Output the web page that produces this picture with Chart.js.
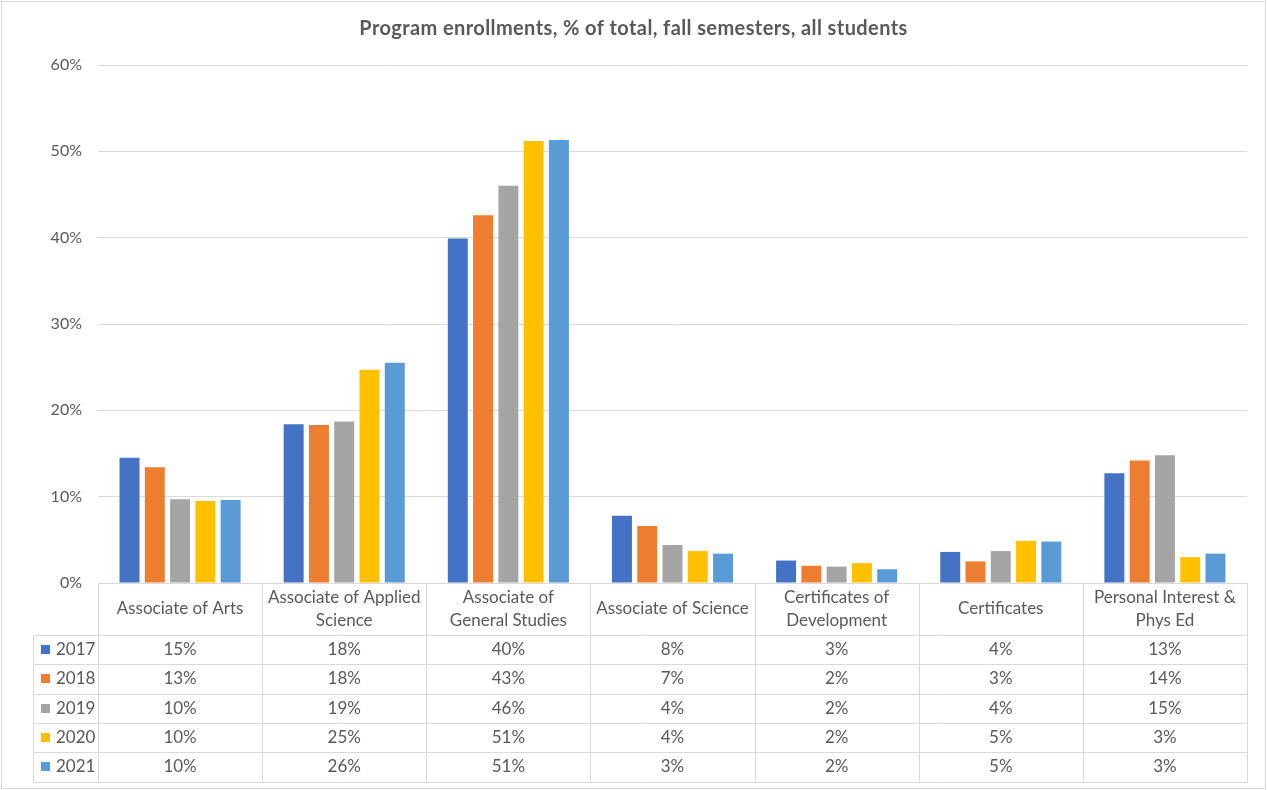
<!DOCTYPE html>
<html>
<head>
<meta charset="utf-8">
<title>Program enrollments</title>
<script src="https://cdn.jsdelivr.net/npm/chart.js@4"></script>
<style>
  html, body { margin: 0; padding: 0; background: #fff; }
  canvas { display: block; }
</style>
</head>
<body>
<canvas id="enrollChart" width="1267" height="790"></canvas>
<script>
const categories = [
  ['Associate of Arts'],
  ['Associate of Applied', 'Science'],
  ['Associate of', 'General Studies'],
  ['Associate of Science'],
  ['Certificates of', 'Development'],
  ['Certificates'],
  ['Personal Interest &', 'Phys Ed']
];
const years = ['2017', '2018', '2019', '2020', '2021'];
const colors = ['#4472C4', '#ED7D31', '#A5A5A5', '#FFC000', '#5B9BD5'];

// percent of total
const y2017 = [14.5, 18.4, 39.9, 7.8, 2.6, 3.6, 12.7];
const y2018 = [13.4, 18.3, 42.6, 6.6, 2.0, 2.5, 14.2];
const y2019 = [9.7, 18.7, 46.0, 4.4, 1.9, 3.7, 14.8];
const y2020 = [9.5, 24.7, 51.2, 3.7, 2.3, 4.9, 3.0];
const y2021 = [9.6, 25.5, 51.3, 3.4, 1.6, 4.8, 3.4];
const series = [y2017, y2018, y2019, y2020, y2021];

const yTicks = [0, 10, 20, 30, 40, 50, 60];

const FONT = 'Lato, "Liberation Sans", sans-serif';
const TEXT = '#595959';
const LINE = '#d9d9d9';

// title + data table under the plot, drawn from the same scales
const tablePlugin = {
  id: 'dataTable',
  afterDraw(chart) {
    const { ctx, chartArea: a, scales: { x } } = chart;
    const colW = a.width / categories.length;
    const headTop = a.bottom, headBot = a.bottom + 52;
    const rowH = 29.3;
    const tableBot = headBot + rowH * years.length;
    const legLeft = 33.5;

    ctx.save();
    // outer frame
    ctx.strokeStyle = LINE;
    ctx.lineWidth = 1;
    ctx.strokeRect(1.5, 1.5, chart.width - 3, chart.height - 3);

    // title
    ctx.fillStyle = TEXT;
    ctx.font = 'bold 20px ' + FONT;
    ctx.letterSpacing = '0.4px';
    ctx.textAlign = 'center';
    ctx.textBaseline = 'middle';
    ctx.fillText('Program enrollments, % of total, fall semesters, all students', chart.width / 2, 29);
    ctx.letterSpacing = '0px';

    // grid lines of the table
    ctx.beginPath();
    ctx.moveTo(a.left, headTop + 0.5); ctx.lineTo(a.right, headTop + 0.5);
    for (let r = 0; r <= years.length; r++) {
      const yy = Math.round(headBot + r * rowH) + 0.5;
      ctx.moveTo(legLeft, yy); ctx.lineTo(a.right, yy);
    }
    for (let c = 0; c <= categories.length; c++) {
      const xx = Math.round(x.getPixelForValue(c) - colW / 2) + 0.5;
      ctx.moveTo(xx, headTop); ctx.lineTo(xx, Math.round(tableBot) + 0.5);
    }
    ctx.moveTo(legLeft, Math.round(headBot) + 0.5); ctx.lineTo(legLeft, Math.round(tableBot) + 0.5);
    ctx.stroke();

    ctx.font = '17px ' + FONT;
    ctx.fillStyle = TEXT;
    // header cells
    categories.forEach((lines, i) => {
      const cx = x.getPixelForValue(i);
      const mid = (headTop + headBot) / 2;
      lines.forEach((t, k) => {
        const yy = mid + (k - (lines.length - 1) / 2) * 23;
        ctx.fillText(t, cx, yy);
      });
    });
    // value rows + legend keys
    series.forEach((vals, r) => {
      const cy = headBot + rowH * (r + 0.5);
      ctx.fillStyle = colors[r];
      ctx.fillRect(41, Math.round(cy - 4.5), 9, 9);
      ctx.fillStyle = TEXT;
      ctx.textAlign = 'left';
      ctx.fillText(years[r], 56, cy);
      ctx.textAlign = 'center';
      vals.forEach((v, i) => {
        ctx.fillText(Math.round(v) + '%', x.getPixelForValue(i), cy);
      });
    });
    ctx.restore();
  }
};

new Chart(document.getElementById('enrollChart'), {
  type: 'bar',
  data: {
    labels: categories,
    datasets: series.map((vals, i) => ({
      label: years[i],
      data: vals,
      backgroundColor: colors[i],
      borderWidth: 0,
      categoryPercentage: 0.77,
      barPercentage: 0.79
    }))
  },
  options: {
    responsive: false,
    devicePixelRatio: 1,
    animation: false,
    layout: { padding: { left: 0, right: 20, top: 65, bottom: 207 } },
    plugins: {
      legend: { display: false },
      title: { display: false },
      tooltip: { enabled: false }
    },
    scales: {
      x: {
        grid: { display: false },
        border: { display: false },
        ticks: { display: false },
        afterFit(scale) { scale.height = 0; }
      },
      y: {
        min: 0,
        max: 60,
        afterBuildTicks(scale) { scale.ticks = yTicks.map(v => ({ value: v })); },
        afterFit(scale) { scale.width = 98; },
        grid: { color: LINE, drawTicks: false },
        border: { display: false },
        ticks: {
          padding: 16,
          color: TEXT,
          font: { family: FONT, size: 16 },
          callback: v => v + '%'
        }
      }
    }
  },
  plugins: [tablePlugin]
});
</script>
</body>
</html>
